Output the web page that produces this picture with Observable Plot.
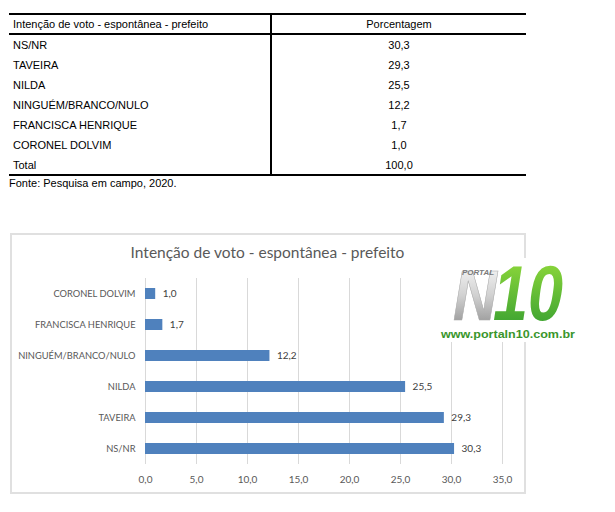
<!DOCTYPE html>
<html>
<head>
<meta charset="utf-8">
<script src="https://cdn.jsdelivr.net/npm/d3@7"></script>
<script src="https://cdn.jsdelivr.net/npm/@observablehq/plot@0.6"></script>
<style>
  html, body { margin:0; padding:0; background:#fff; }
  body { position:relative; width:615px; height:512px; overflow:hidden; }
  table.t { position:absolute; left:9px; top:13px; width:517px; border-collapse:collapse;
    font: 11px "Liberation Sans", Arial, sans-serif; color:#000; }
  table.t td { height:20px; padding:0 0 0 4px; line-height:14px; }
  table.t td.v { text-align:center; padding:0; }
  table.t tr.h td { border-top:2px solid #000; border-bottom:2px solid #000; height:18px; }
  table.t tr.last td { border-bottom:2px solid #000; height:19px; }
  table.t td.c { border-right:2px solid #000; width:257px; }
  .fonte { position:absolute; left:9px; top:177px; font: 11px "Liberation Sans", Arial, sans-serif; }
  .box { position:absolute; left:10px; top:233px; width:512px; height:257px; border:2px solid #e0e0e0; }
  .title { position:absolute; left:0; top:243px; width:535px; text-align:center;
    font: 15.5px Lato, sans-serif; color:#595959; }
  #chart { position:absolute; left:0; top:268px; }
  #chart g[aria-label^="y-axis"] text { font-size:9.3px; }
  #logo { position:absolute; left:438px; top:258px; }
</style>
</head>
<body>
<table class="t" id="tbl"></table>
<div class="fonte" id="fonte"></div>
<div class="box"></div>
<div class="title" id="title"></div>
<div id="chart"></div>
<svg id="logo" width="140" height="84" viewBox="0 0 140 84">
  <defs>
    <linearGradient id="gN" x1="0" y1="0" x2="0" y2="1">
      <stop offset="0" stop-color="#ffffff"/>
      <stop offset="0.5" stop-color="#d0d0d0"/>
      <stop offset="1" stop-color="#858585"/>
    </linearGradient>
    <linearGradient id="g10" x1="0" y1="0" x2="0" y2="1">
      <stop offset="0" stop-color="#9be03c"/>
      <stop offset="1" stop-color="#2f9a30"/>
    </linearGradient>
  </defs>
  <rect x="0" y="0" width="140" height="84" fill="#fff"/>
  <text x="15" y="62" font-family="Liberation Sans" font-weight="bold" font-style="italic" font-size="70" fill="url(#gN)" stroke="#a8a8a8" stroke-width="0.6" textLength="44" lengthAdjust="spacingAndGlyphs">N</text>
  <text x="55" y="62" font-family="Liberation Sans" font-weight="bold" font-style="italic" font-size="78" fill="url(#g10)" textLength="70" lengthAdjust="spacingAndGlyphs">10</text>
  <text x="24" y="17" font-family="Liberation Sans" font-weight="bold" font-style="italic" font-size="8" fill="#7a7a7a" textLength="32" lengthAdjust="spacingAndGlyphs">PORTAL</text>
  <text x="3" y="80" font-family="Liberation Sans" font-weight="bold" font-size="11.5" fill="#3a962c" textLength="134" lengthAdjust="spacingAndGlyphs">www.portaln10.com.br</text>
</svg>
<script>
// ---- data ----
const tableTitle = "Intenção de voto - espontânea - prefeito";
const valueHeader = "Porcentagem";
const categories = ["NS/NR", "TAVEIRA", "NILDA", "NINGUÉM/BRANCO/NULO", "FRANCISCA HENRIQUE", "CORONEL DOLVIM"];
const values = [30.3, 29.3, 25.5, 12.2, 1.7, 1.0];
const totalLabel = "Total";
const totalValue = 100.0;
const source = "Fonte: Pesquisa em campo, 2020.";
const chartTitle = "Intenção de voto - espontânea - prefeito";
const xTicks = [0, 5, 10, 15, 20, 25, 30, 35];

const fmt = v => d3.format(".1f")(v).replace(".", ",");

// ---- table ----
const tbl = document.getElementById("tbl");
let html = `<tr class="h"><td class="c">${tableTitle}</td><td class="v">${valueHeader}</td></tr>`;
categories.forEach((c, i) => {
  html += `<tr><td class="c">${c}</td><td class="v">${fmt(values[i])}</td></tr>`;
});
html += `<tr class="last"><td class="c">${totalLabel}</td><td class="v">${fmt(totalValue)}</td></tr>`;
tbl.innerHTML = html;
document.getElementById("fonte").textContent = source;
document.getElementById("title").textContent = chartTitle;

// ---- chart ----
const data = categories.map((c, i) => ({cat: c, value: values[i]}));

const chart = Plot.plot({
  width: 615,
  height: 225,
  marginLeft: 145,
  marginRight: 113,
  marginTop: 10,
  marginBottom: 29,
  style: {background: "transparent", fontFamily: "Lato, sans-serif", fontSize: "10px", color: "#595959", overflow: "visible"},
  x: {domain: [0, 35], ticks: xTicks, tickFormat: fmt, label: null, tickSize: 0, tickPadding: 11},
  y: {domain: categories.slice().reverse(), paddingInner: 0.645, paddingOuter: 0.3225, label: null, tickSize: 0, tickPadding: 10},
  marks: [
    Plot.ruleX(xTicks, {stroke: "#d9d9d9", strokeWidth: 1}),
    Plot.barX(data, {x: "value", y: "cat", fill: "#4f81bd"}),
    Plot.text(data, {x: "value", y: "cat", text: d => fmt(d.value), dx: 7, textAnchor: "start", fill: "#404040", fontSize: 10})
  ]
});
document.getElementById("chart").appendChild(chart);
</script>
</body>
</html>
